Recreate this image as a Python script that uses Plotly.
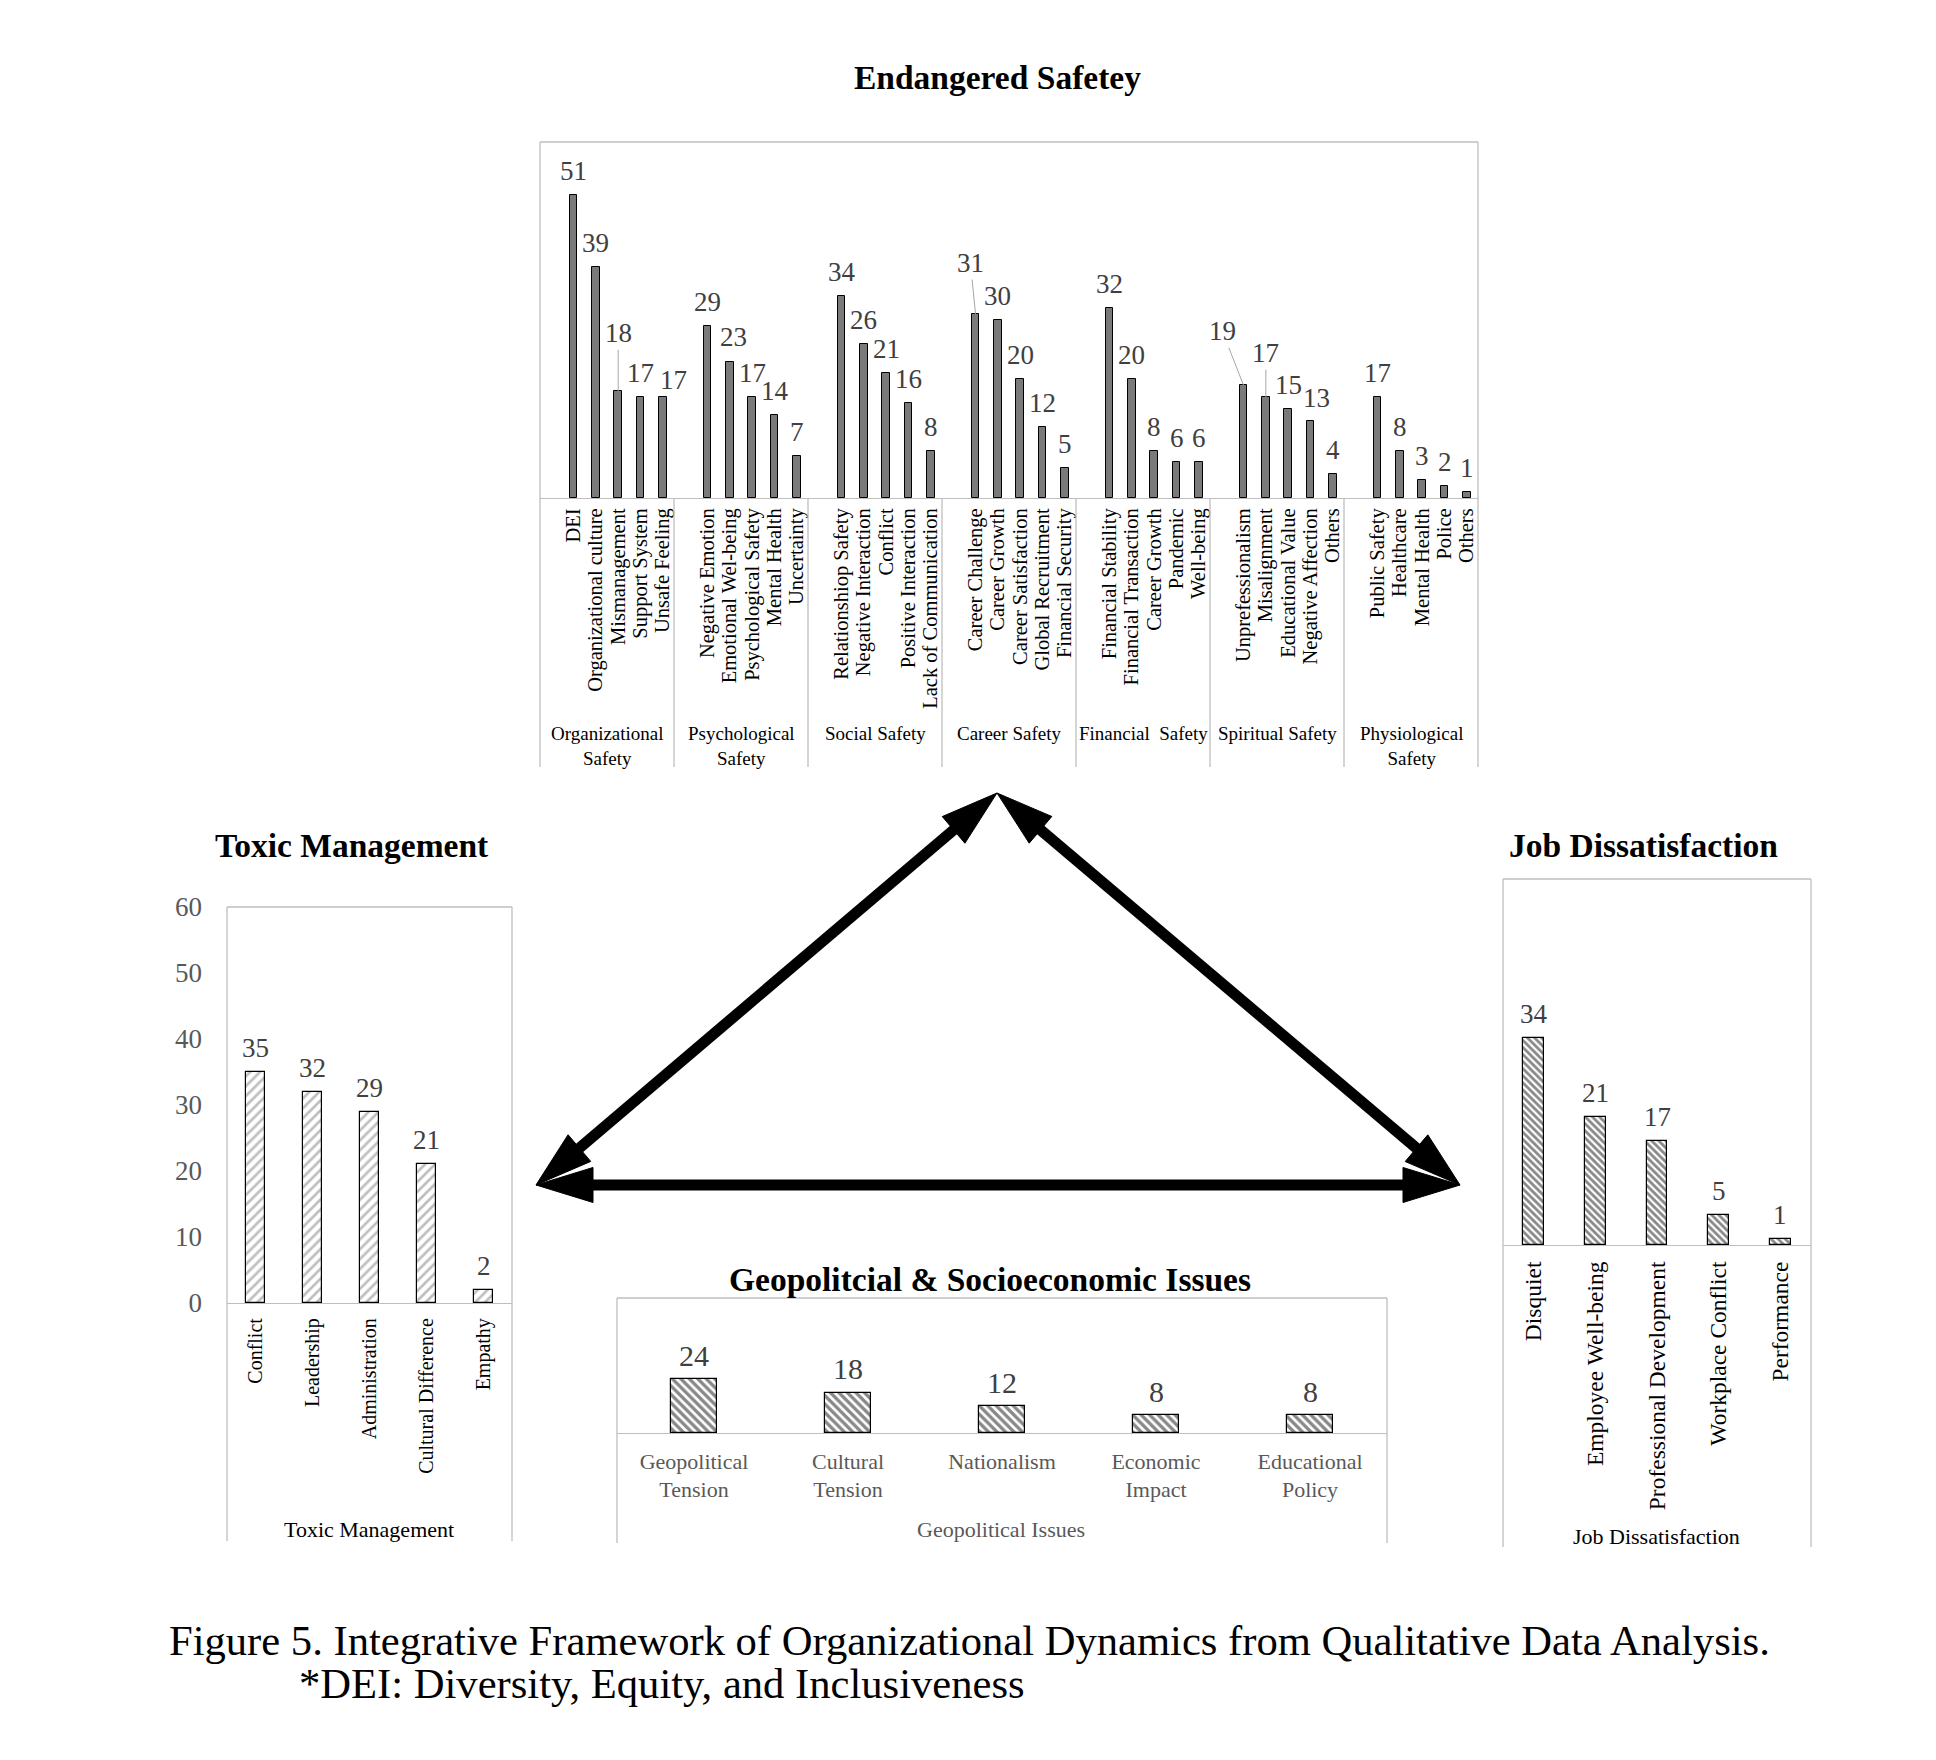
import math
import plotly.graph_objects as go

# ------------------------------------------------------------------ data
safety_groups = ["Organizational Safety", "Psychological Safety", "Social Safety",
                 "Career Safety", "Financial  Safety", "Spiritual Safety",
                 "Physiological Safety"]
org_items = ["DEI", "Organizational culture", "Mismanagement", "Support System", "Unsafe Feeling"]
org_vals = [51, 39, 18, 17, 17]
psy_items = ["Negative Emotion", "Emotional Wel-being", "Psychological Safety", "Mental Health", "Uncertainty"]
psy_vals = [29, 23, 17, 14, 7]
soc_items = ["Relationshiop Safety", "Negative Interaction", "Conflict", "Positive Interaction", "Lack of Communication"]
soc_vals = [34, 26, 21, 16, 8]
car_items = ["Career Challenge", "Career Growth", "Career Satisfaction", "Global Recruitment", "Financial Security"]
car_vals = [31, 30, 20, 12, 5]
fin_items = ["Financial Stability", "Financial Transaction", "Career Growth", "Pandemic", "Well-being"]
fin_vals = [32, 20, 8, 6, 6]
spi_items = ["Unprefessionalism", "Misalignment", "Educational Value", "Negative Affection", "Others"]
spi_vals = [19, 17, 15, 13, 4]
phy_items = ["Public Safety", "Healthcare", "Mental Health", "Police", "Others"]
phy_vals = [17, 8, 3, 2, 1]

toxic_cats = ["Conflict", "Leadership", "Administration", "Cultural Difference", "Empathy"]
toxic_vals = [35, 32, 29, 21, 2]
job_cats = ["Disquiet", "Employee Well-being", "Professional Development", "Workplace Conflict", "Performance"]
job_vals = [34, 21, 17, 5, 1]
geo_cats = ["Geopolitical Tension", "Cultural Tension", "Nationalism", "Economic Impact", "Educational Policy"]
geo_vals = [24, 18, 12, 8, 8]
y_ticks = [0, 10, 20, 30, 40, 50, 60]

titles = {"top": "Endangered Safetey", "tox": "Toxic Management",
          "job": "Job Dissatisfaction", "geo": "Geopolitcial & Socioeconomic Issues"}
axis_titles = {"tox": "Toxic Management", "job": "Job Dissatisfaction", "geo": "Geopolitical Issues"}
caption1 = "Figure 5. Integrative Framework of Organizational Dynamics from Qualitative Data Analysis."
caption2 = "*DEI: Diversity, Equity, and Inclusiveness"

# ------------------------------------------------------------------ style / layout helpers
W, H = 1936, 1760
FONT = "Liberation Serif, Times New Roman, serif"
VAL_COLOR = "#404040"
FRAME = "#bfbfbf"
GRAY_TXT = "#595959"


def fx(x):
    return x / W


def fy(y):
    return 1 - y / H


# plot boxes in pixels: x0, x1, top, baseline, frame bottom
BOX = {
    "top": (540, 1478, 142, 498, 767),
    "tox": (227, 512, 907, 1303, 1541),
    "job": (1503, 1811, 879, 1245, 1547),
    "geo": (617, 1387, 1298, 1433, 1543),
}
AX = {"top": ("x", "y"), "tox": ("x2", "y2"), "job": ("x3", "y3"), "geo": ("x4", "y4")}

fig = go.Figure()
shapes = []
annos = []

# ------------------------------------------------------------------ top chart
group_items = [org_items, psy_items, soc_items, car_items, fin_items, spi_items, phy_items]
group_vals = [org_vals, psy_vals, soc_vals, car_vals, fin_vals, spi_vals, phy_vals]
SLOTS = 6
top_x, top_y, top_names, top_keys = [], [], [], []
for g, (items, vals) in enumerate(zip(group_items, group_vals)):
    for k, (name, v) in enumerate(zip(items, vals)):
        top_x.append(g * SLOTS + k + 1)
        top_y.append(v)
        top_names.append(name)
        top_keys.append((g, k))

fig.add_trace(go.Bar(x=top_x, y=top_y, width=0.33, xaxis="x", yaxis="y",
                     marker=dict(color="#7a7a7a", line=dict(color="black", width=1)),
                     showlegend=False, hoverinfo="skip"))

# label nudges (dx px, height above bar px, leader line)
label_nudge = {(0, 2): (0, 58, True), (0, 4): (11, 17, False), (1, 1): (4, 25, False),
               (3, 0): (-5, 51, True), (5, 0): (-21, 54, True), (5, 1): (0, 44, True),
               (5, 3): (6, 23, False)}
for xv, yv, key in zip(top_x, top_y, top_keys):
    dx, up, leader = label_nudge.get(key, (0, 24, False))
    if leader:
        annos.append(dict(x=xv, y=yv, xref="x", yref="y", text=str(yv), showarrow=True,
                          ax=dx, ay=-up, arrowhead=0, arrowwidth=1, arrowcolor="#a6a6a6",
                          standoff=0, font=dict(family=FONT, size=27, color=VAL_COLOR)))
    else:
        annos.append(dict(x=xv, y=yv, xref="x", yref="y", text=str(yv), showarrow=False,
                          xshift=dx, yshift=up, xanchor="center", yanchor="middle",
                          font=dict(family=FONT, size=27, color=VAL_COLOR)))

x0, x1, t, b, bot = BOX["top"]
for g in range(1, len(safety_groups)):
    shapes.append(dict(type="line", xref="x", yref="paper", x0=g * SLOTS - 0.5, x1=g * SLOTS - 0.5,
                       y0=fy(b), y1=fy(bot), line=dict(color=FRAME, width=1.3)))
for g, name in enumerate(safety_groups):
    txt = name.replace(" Safety", "<br>Safety") if len(name) > 18 else name
    annos.append(dict(x=g * SLOTS + 2.5, y=fy(721), xref="x", yref="paper", text=txt,
                      showarrow=False, xanchor="center", yanchor="top",
                      font=dict(family=FONT, size=19, color="black")))

# ------------------------------------------------------------------ small charts
fig.add_trace(go.Bar(x=toxic_cats, y=toxic_vals, width=0.33, xaxis="x2", yaxis="y2",
                     marker=dict(color="white", line=dict(color="black", width=1.2),
                                 pattern=dict(shape="/", fgcolor="#7f7f7f", bgcolor="white",
                                              size=7, solidity=0.38)),
                     showlegend=False, hoverinfo="skip"))
fig.add_trace(go.Bar(x=job_cats, y=job_vals, width=0.34, xaxis="x3", yaxis="y3",
                     marker=dict(color="white", line=dict(color="black", width=1.2),
                                 pattern=dict(shape="\\", fgcolor="#111111", bgcolor="white",
                                              size=5, solidity=0.55)),
                     showlegend=False, hoverinfo="skip"))
fig.add_trace(go.Bar(x=geo_cats, y=geo_vals, width=0.3, xaxis="x4", yaxis="y4",
                     marker=dict(color="white", line=dict(color="black", width=1.2),
                                 pattern=dict(shape="\\", fgcolor="#111111", bgcolor="white",
                                              size=6, solidity=0.55)),
                     showlegend=False, hoverinfo="skip"))

for key, cats, vals, fsize, up in (("tox", toxic_cats, toxic_vals, 27, 24),
                                   ("job", job_cats, job_vals, 27, 24),
                                   ("geo", geo_cats, geo_vals, 30, 24)):
    xa, ya = AX[key]
    for c, v in zip(cats, vals):
        annos.append(dict(x=c, y=v, xref=xa, yref=ya, text=str(v), showarrow=False,
                          yshift=up, xanchor="center", yanchor="middle",
                          font=dict(family=FONT, size=fsize, color=VAL_COLOR)))

# frames
for key, (x0, x1, t, b, bot) in BOX.items():
    for (a, bb, c, d) in ((x0, t, x1, t), (x0, t, x0, bot), (x1, t, x1, bot)):
        shapes.append(dict(type="line", xref="paper", yref="paper", x0=fx(a), y0=fy(bb),
                           x1=fx(c), y1=fy(d), line=dict(color=FRAME, width=1.3)))

# titles
title_pos = {"top": (997, 78), "tox": (352, 845), "job": (1643, 845), "geo": (990, 1279)}
for key, (px_, py_) in title_pos.items():
    annos.append(dict(x=fx(px_), y=fy(py_), xref="paper", yref="paper",
                      text="<b>%s</b>" % titles[key], showarrow=False,
                      xanchor="center", yanchor="middle",
                      font=dict(family=FONT, size=33.5, color="black")))
axis_title_pos = {"tox": (369, 1529, "black"), "job": (1656, 1536, "black"),
                  "geo": (1001, 1529, GRAY_TXT)}
for key, (px_, py_, col) in axis_title_pos.items():
    annos.append(dict(x=fx(px_), y=fy(py_), xref="paper", yref="paper",
                      text=axis_titles[key], showarrow=False,
                      xanchor="center", yanchor="middle",
                      font=dict(family=FONT, size=22, color=col)))

# caption
annos.append(dict(x=fx(167), y=fy(1640), xref="paper", yref="paper", text=caption1,
                  showarrow=False, xanchor="left", yanchor="middle",
                  font=dict(family=FONT, size=42.6, color="black")))
annos.append(dict(x=fx(297), y=fy(1683), xref="paper", yref="paper", text=caption2,
                  showarrow=False, xanchor="left", yanchor="middle",
                  font=dict(family=FONT, size=42.6, color="black")))

# ------------------------------------------------------------------ connecting arrows
APEX, LEFT, RIGHT = (997, 793), (536, 1185), (1460, 1185)
HEAD_LEN, HEAD_HALF, SHAFT = 57, 17.5, 11


def head(tip, frm):
    ux, uy = tip[0] - frm[0], tip[1] - frm[1]
    n = math.hypot(ux, uy)
    ux, uy = ux / n, uy / n
    bx, by = tip[0] - ux * HEAD_LEN, tip[1] - uy * HEAD_LEN
    p1 = (bx - uy * HEAD_HALF, by + ux * HEAD_HALF)
    p2 = (bx + uy * HEAD_HALF, by - ux * HEAD_HALF)
    path = "M %f,%f L %f,%f L %f,%f Z" % (fx(tip[0]), fy(tip[1]), fx(p1[0]), fy(p1[1]),
                                          fx(p2[0]), fy(p2[1]))
    shapes.append(dict(type="path", xref="paper", yref="paper", path=path,
                       fillcolor="black", line=dict(color="black", width=1)))
    return (tip[0] - ux * (HEAD_LEN - 4), tip[1] - uy * (HEAD_LEN - 4))


for a, bpt in ((APEX, LEFT), (APEX, RIGHT), (LEFT, RIGHT)):
    s = head(a, bpt)
    e = head(bpt, a)
    shapes.append(dict(type="line", xref="paper", yref="paper", x0=fx(s[0]), y0=fy(s[1]),
                       x1=fx(e[0]), y1=fy(e[1]), line=dict(color="black", width=SHAFT)))

# ------------------------------------------------------------------ layout
layout = dict(width=W, height=H, margin=dict(l=0, r=0, t=0, b=0, pad=0),
              paper_bgcolor="white", plot_bgcolor="white", showlegend=False,
              font=dict(family=FONT), shapes=shapes, annotations=annos, bargap=0)


def dom(key):
    x0, x1, t, b, bot = BOX[key]
    return [fx(x0), fx(x1)], [fy(b), fy(t)]


xd, yd = dom("top")
layout["xaxis"] = dict(domain=xd, anchor="y", range=[-0.5, len(safety_groups) * SLOTS - 0.5],
                       tickvals=top_x, ticktext=top_names, tickangle=-90, ticks="",
                       showgrid=False, zeroline=False, showline=True, linecolor=FRAME,
                       linewidth=1.3, ticklabelstandoff=1, automargin=False,
                       tickfont=dict(family=FONT, size=20.5, color="black"))
layout["yaxis"] = dict(domain=yd, anchor="x", range=[0, 60], visible=False)

xd, yd = dom("tox")
layout["xaxis2"] = dict(domain=xd, anchor="y2", tickangle=-90, ticks="", showgrid=False,
                        zeroline=False, showline=True, linecolor=FRAME, linewidth=1.3,
                        ticklabelstandoff=6, automargin=False,
                        tickfont=dict(family=FONT, size=20, color="black"))
layout["yaxis2"] = dict(domain=yd, anchor="x2", range=[0, 60], tickvals=y_ticks,
                        showgrid=False, zeroline=False, showline=False, ticks="",
                        ticklabelstandoff=24, automargin=False,
                        tickfont=dict(family=FONT, size=27, color=GRAY_TXT))

xd, yd = dom("job")
layout["xaxis3"] = dict(domain=xd, anchor="y3", tickangle=-90, ticks="", showgrid=False,
                        zeroline=False, showline=True, linecolor=FRAME, linewidth=1.3,
                        ticklabelstandoff=6, automargin=False,
                        tickfont=dict(family=FONT, size=23.5, color="black"))
layout["yaxis3"] = dict(domain=yd, anchor="x3", range=[0, 60], visible=False)

xd, yd = dom("geo")
layout["xaxis4"] = dict(domain=xd, anchor="y4", tickvals=geo_cats,
                        ticktext=[c.replace(" ", "<br>", 1) for c in geo_cats], tickangle=0,
                        ticks="", showgrid=False, zeroline=False, showline=True,
                        linecolor=FRAME, linewidth=1.3, ticklabelstandoff=8, automargin=False,
                        tickfont=dict(family=FONT, size=22, color=GRAY_TXT))
layout["yaxis4"] = dict(domain=yd, anchor="x4", range=[0, 60], visible=False)

fig.update_layout(**layout)
fig.write_html("out.html", config={"displayModeBar": False},
               post_script="document.body.style.margin='0';")
